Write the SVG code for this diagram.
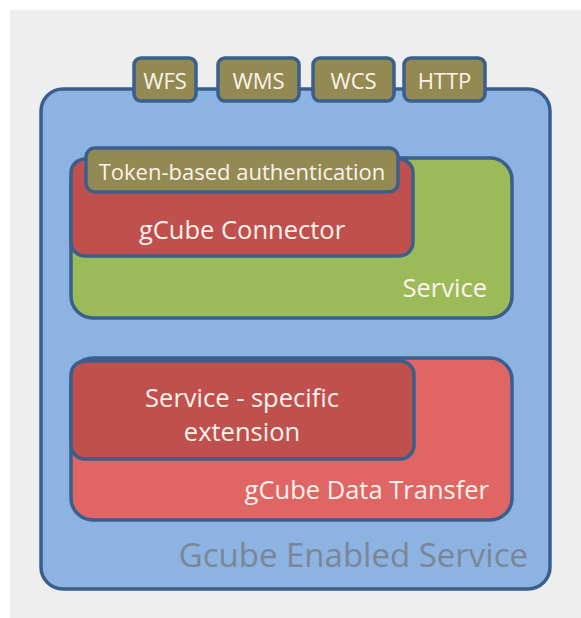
<svg xmlns="http://www.w3.org/2000/svg" width="581" height="618" viewBox="0 0 581 618">
<style>
.box{stroke:#3b5f8c;stroke-width:3.5}
.t{font-family:"Open Sans","Liberation Sans",sans-serif;fill:#fbf3ea}
.tab{fill:#938953}
</style>
<rect x="0" y="0" width="581" height="618" fill="#ffffff"/>
<rect x="10" y="10" width="571" height="608" fill="#eeeeee"/>
<g id="gcube-enabled-service">
<rect class="box" x="41" y="89" width="509" height="500" rx="22" fill="#8db3e2"/>
<text class="t" x="528" y="567" font-size="33" text-anchor="end" style="fill:#7b8795">Gcube Enabled Service</text>
</g>
<g id="tab-wfs"><rect class="box tab" x="134" y="58" width="62" height="43" rx="7"/><text class="t" x="165" y="89" font-size="22" text-anchor="middle">WFS</text></g>
<g id="tab-wms"><rect class="box tab" x="218" y="58" width="81" height="43" rx="7"/><text class="t" x="258.5" y="89" font-size="22" text-anchor="middle">WMS</text></g>
<g id="tab-wcs"><rect class="box tab" x="313" y="58" width="81" height="43" rx="7"/><text class="t" x="353.5" y="89" font-size="22" text-anchor="middle">WCS</text></g>
<g id="tab-http"><rect class="box tab" x="404" y="58" width="81" height="43" rx="7"/><text class="t" x="444.5" y="89" font-size="22" text-anchor="middle">HTTP</text></g>
<g id="service">
<rect class="box" x="71" y="158" width="441" height="160" rx="22" fill="#9bbb59"/>
<text class="t" x="487" y="297" font-size="25.5" text-anchor="end">Service</text>
</g>
<g id="gcube-connector">
<rect class="box" x="71" y="159" width="342" height="97" rx="14" fill="#c0504d"/>
<text class="t" x="242" y="239" font-size="25.5" text-anchor="middle">gCube Connector</text>
</g>
<g id="token-auth">
<rect class="box tab" x="86" y="148" width="312" height="44" rx="9"/>
<text class="t" x="242" y="180" font-size="22" text-anchor="middle">Token-based authentication</text>
</g>
<g id="gcube-data-transfer">
<rect class="box" x="71" y="358" width="441" height="162" rx="22" fill="#e06666"/>
<text class="t" x="489" y="499" font-size="25.5" text-anchor="end">gCube Data Transfer</text>
</g>
<g id="service-specific-extension">
<rect class="box" x="71" y="361" width="343" height="98" rx="14" fill="#c0504d"/>
<text class="t" x="242" y="407" font-size="25.5" text-anchor="middle">Service - specific</text>
<text class="t" x="242" y="441" font-size="25.5" text-anchor="middle">extension</text>
</g>
<g id="connectors"/>
</svg>
